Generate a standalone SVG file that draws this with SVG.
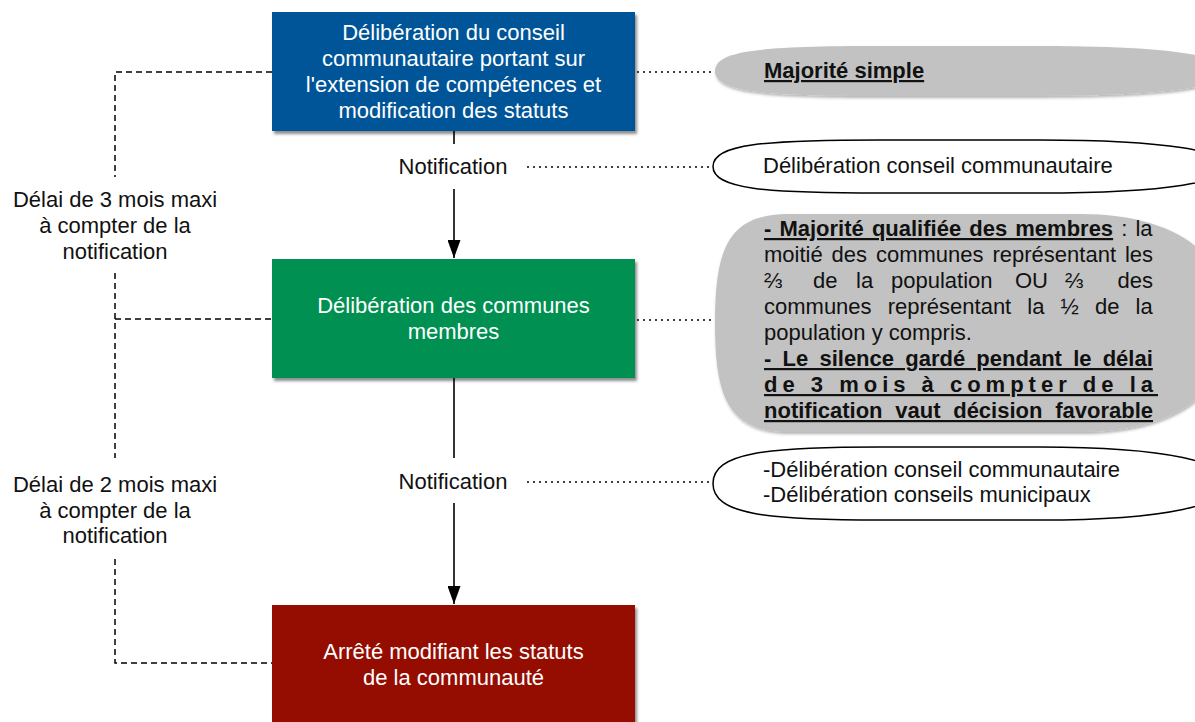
<svg xmlns="http://www.w3.org/2000/svg" width="1195" height="722" viewBox="0 0 1195 722">
  <defs>
    <filter id="shadow" x="-10%" y="-10%" width="130%" height="140%">
      <feDropShadow dx="2" dy="3" stdDeviation="1.6" flood-color="#000" flood-opacity="0.45"/>
    </filter>
    <filter id="softShadow" x="-10%" y="-10%" width="130%" height="140%">
      <feDropShadow dx="1" dy="2" stdDeviation="1.5" flood-color="#000" flood-opacity="0.3"/>
    </filter>
    <marker id="arrow" viewBox="0 0 18 13" refX="18" refY="6.5" markerWidth="18" markerHeight="13" markerUnits="userSpaceOnUse" orient="auto">
      <path d="M0,0 L18,6.5 L0,13 Z" fill="#000"/>
    </marker>
    <style>
      text { font-family: "Liberation Sans", Arial, Helvetica, sans-serif; font-size: 22px; fill: #111; }
      .white { fill: #fff; }
      .mid { text-anchor: middle; }
      .b { font-weight: bold; }
      .u { text-decoration: underline; }
      .solid { stroke: #000; stroke-width: 1.6; fill: none; }
      .dash { stroke: #000; stroke-width: 1.5; fill: none; stroke-dasharray: 6 4; }
      .dot { stroke: #000; stroke-width: 1.5; fill: none; stroke-dasharray: 2 4; }
      .note-grey { fill: #c2c2c2; }
      .note-white { fill: #fff; stroke: #000; stroke-width: 1.5; }
    </style>
  </defs>

  <!-- connectors -->
  <g id="connectors">
    <!-- main flow -->
    <line class="solid" x1="454" y1="131" x2="454" y2="144"/>
    <line class="solid" x1="454" y1="189" x2="454" y2="258" marker-end="url(#arrow)"/>
    <line class="solid" x1="454" y1="378" x2="454" y2="458"/>
    <line class="solid" x1="454" y1="503" x2="454" y2="604" marker-end="url(#arrow)"/>
    <!-- time limits on the left -->
    <polyline class="dash" points="272,72 115,72 115,177"/>
    <line class="dash" x1="115" y1="273" x2="115" y2="458"/>
    <line class="dash" x1="115" y1="319" x2="272" y2="319"/>
    <polyline class="dash" points="115,559 115,663 272,663"/>
    <!-- links to the notes -->
    <line class="dot" x1="637" y1="72" x2="715" y2="72"/>
    <line class="dot" x1="527" y1="167" x2="713" y2="167"/>
    <line class="dot" x1="637" y1="320" x2="715" y2="320"/>
    <line class="dot" x1="527" y1="482" x2="713" y2="482"/>
  </g>

  <!-- flow steps -->
  <g id="step-epci">
    <rect x="272" y="12" width="363" height="119" fill="#025598" filter="url(#shadow)"/>
    <text class="white mid" x="453.5" y="40">Délibération du conseil</text>
    <text class="white mid" x="453.5" y="66">communautaire portant sur</text>
    <text class="white mid" x="453.5" y="92">l'extension de compétences et</text>
    <text class="white mid" x="453.5" y="118">modification des statuts</text>
  </g>

  <g id="step-communes">
    <rect x="272" y="259" width="363" height="119" fill="#009051" filter="url(#shadow)"/>
    <text class="white mid" x="453.5" y="313">Délibération des communes</text>
    <text class="white mid" x="453.5" y="339">membres</text>
  </g>

  <g id="step-arrete">
    <rect x="272" y="605" width="363" height="125" fill="#941100" filter="url(#shadow)"/>
    <text class="white mid" x="453.5" y="659">Arrêté modifiant les statuts</text>
    <text class="white mid" x="453.5" y="685">de la communauté</text>
  </g>

  <!-- labels on the flow -->
  <g id="notification-1">
    <text class="mid" x="453" y="174">Notification</text>
  </g>
  <g id="notification-2">
    <text class="mid" x="453" y="489">Notification</text>
  </g>

  <g id="delay-3-months">
    <text class="mid" x="115" y="207">Délai de 3 mois maxi</text>
    <text class="mid" x="115" y="233">à compter de la</text>
    <text class="mid" x="115" y="259">notification</text>
  </g>
  <g id="delay-2-months">
    <text class="mid" x="115" y="492">Délai de 2 mois maxi</text>
    <text class="mid" x="115" y="518">à compter de la</text>
    <text class="mid" x="115" y="543">notification</text>
  </g>

  <!-- notes on the right -->
  <g id="note-majorite-simple">
    <path class="note-grey" filter="url(#softShadow)" d="M715,71 C715,50 765,46 880,46 L1040,46 C1170,46 1228,56 1228,71 C1228,86 1170,96 1040,96 L880,96 C765,96 715,92 715,71 Z"/>
    <text class="b u" x="764" y="78">Majorité simple</text>
  </g>

  <g id="note-pieces-1">
    <path class="note-white" d="M713,166.5 C713,144 765,140 880,140 L1040,140 C1170,140 1228,152 1228,166.5 C1228,181 1170,193 1040,193 L880,193 C765,193 713,189 713,166.5 Z"/>
    <text x="763" y="173">Délibération conseil communautaire</text>
  </g>

  <g id="note-majorite-qualifiee">
    <path class="note-grey" filter="url(#softShadow)" d="M715,323 C715,248 728,214 790,214 L1080,214 C1170,214 1230,250 1230,323 C1230,396 1170,432 1080,432 L790,432 C728,432 715,398 715,323 Z"/>
    <text x="764" y="236" style="word-spacing:2px"><tspan class="b u">- Majorité qualifiée des membres</tspan> : la</text>
    <text x="764" y="262" style="word-spacing:2.8px">moitié des communes représentant les</text>
    <text y="288"><tspan x="764">⅔</tspan><tspan x="813">de</tspan><tspan x="856">la</tspan><tspan x="891">population</tspan><tspan x="1015">OU</tspan><tspan x="1065">⅔</tspan><tspan x="1153" text-anchor="end">des</tspan></text>
    <text x="764" y="314" style="word-spacing:10px">communes représentant la ½ de la</text>
    <text x="764" y="340">population y compris.</text>
    <text class="b u" x="764" y="366" style="word-spacing:5.1px">- Le silence gardé pendant le délai</text>
    <text class="b u" x="764" y="392" style="letter-spacing:5px">de 3 mois à compter de la</text>
    <text class="b u" x="764" y="418" style="word-spacing:6.6px">notification vaut décision favorable</text>
  </g>

  <g id="note-pieces-2">
    <path class="note-white" d="M713,483.5 C713,453 765,447 880,447 L1040,447 C1170,447 1228,463 1228,483.5 C1228,504 1170,520 1040,520 L880,520 C765,520 713,514 713,483.5 Z"/>
    <text x="763" y="477">-Délibération conseil communautaire</text>
    <text x="763" y="502">-Délibération conseils municipaux</text>
  </g>
</svg>
